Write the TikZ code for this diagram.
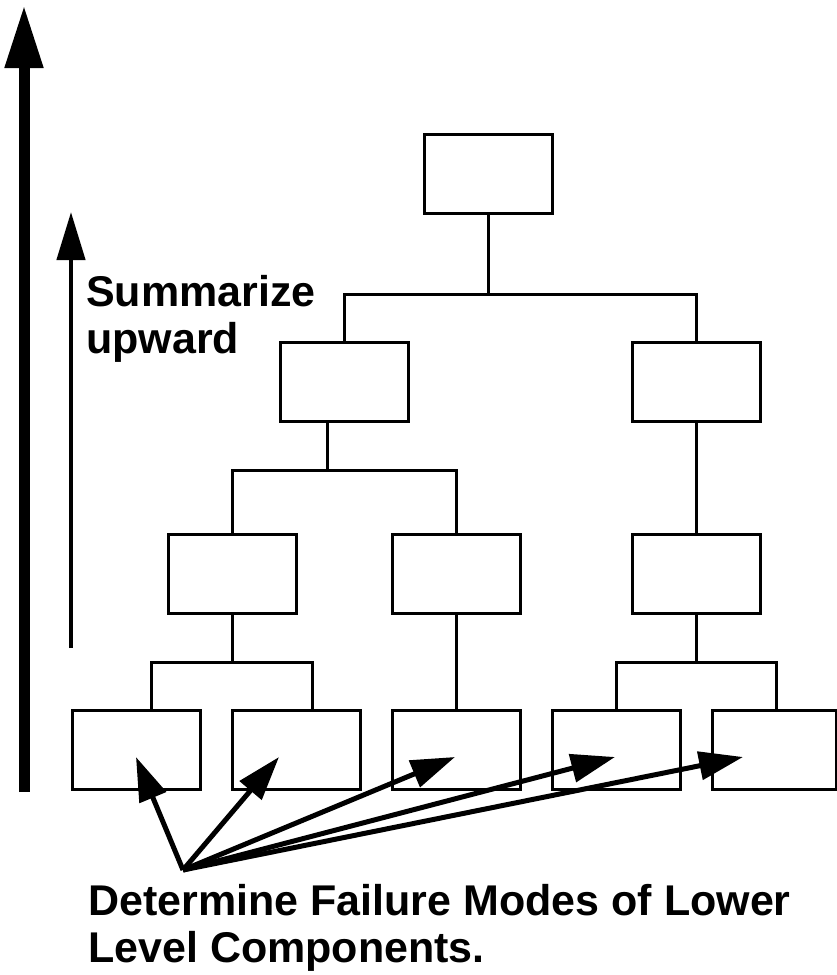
\documentclass[tikz,border=0pt]{standalone}
\usepackage{fontspec}
\setmainfont{Liberation Sans}
\usetikzlibrary{arrows.meta,positioning}

\tikzset{
  box/.style={draw, line width=3pt, minimum width=128pt, minimum height=79pt, inner sep=0pt},
  link/.style={line width=3pt},
  pointer/.style={line width=5pt, -{Triangle[length=44pt,width=28pt]}},
  caption/.style={font=\bfseries\fontsize{43}{47}\selectfont, align=left, inner sep=0pt, anchor=north west}
}

\begin{document}
\begin{tikzpicture}[x=1pt, y=-1pt, node distance=29pt]
        \useasboundingbox (0,0) rectangle (837,975);
        % tree of boxes
        \node[box] (top) at (488,173.5) {};
        \node[box] (mida) at (344,381.5) {};
        \node[box] (midb) at (696.5,381.5) {};
        \node[box] (lowa) at (232,573.5) {};
        \node[box] (lowc) at (696.5,573.5) {};
        \node[box] (baseA) at (136,749.5) {};
        \node[box, right=of baseA] (baseB) {};
        \node[box, right=of baseB] (baseC) {};
        \node[box, right=of baseC] (baseD) {};
        \node[box, right=of baseD, minimum width=124pt] (baseE) {};
        \node[box, above=94pt of baseC] (lowb) {};
        % connectors
        \draw[link] (top.south) -- ++(0,80) coordinate (j1);
        \draw[link] (mida.north) |- (j1) -| (midb.north);
        \draw[link] ([xshift=-17pt]mida.south) -- ++(0,48) coordinate (j2);
        \draw[link] (lowa.north) |- (j2) -| (lowb.north);
        \draw[link] (midb.south) -- (lowc.north);
        \draw[link] (lowa.south) -- ++(0,48) coordinate (j3);
        \draw[link] ([xshift=15pt]baseA.north) |- (j3) -| ([xshift=16pt]baseB.north);
        \draw[link] (lowb.south) -- (baseC.north);
        \draw[link] (lowc.south) -- ++(0,48) coordinate (j4);
        \draw[link] (baseD.north) |- (j4) -| ([xshift=2pt]baseE.north);
        % arrows on the left
        \coordinate (bigfoot) at (24,792);
        \coordinate (bighead) at (24,5);
        \coordinate (smallfoot) at (71,648);
        \coordinate (smallhead) at (71,212);
        \draw[line width=11pt, -{Triangle[length=63pt,width=36pt]}] (bigfoot) -- (bighead);
        \draw[line width=4.5pt, -{Triangle[length=48pt,width=28pt]}] (smallfoot) -- (smallhead);
        \node[caption] (summ) at (86,275) {Summarize\\upward};
        % fan of arrows
        \coordinate (src) at (183,870);
        \coordinate (tA) at (136,757);
        \coordinate (tB) at (279,757);
        \coordinate (tC) at (455,757);
        \coordinate (tD) at (615,757);
        \coordinate (tE) at (743,757);
        \foreach \t in {tA,tB,tC,tD,tE}
            \draw[pointer] (src) -- (\t);
        \node[caption] (det) at (88,884) {Determine Failure Modes of Lower\\Level Components.};
\end{tikzpicture}
\end{document}
